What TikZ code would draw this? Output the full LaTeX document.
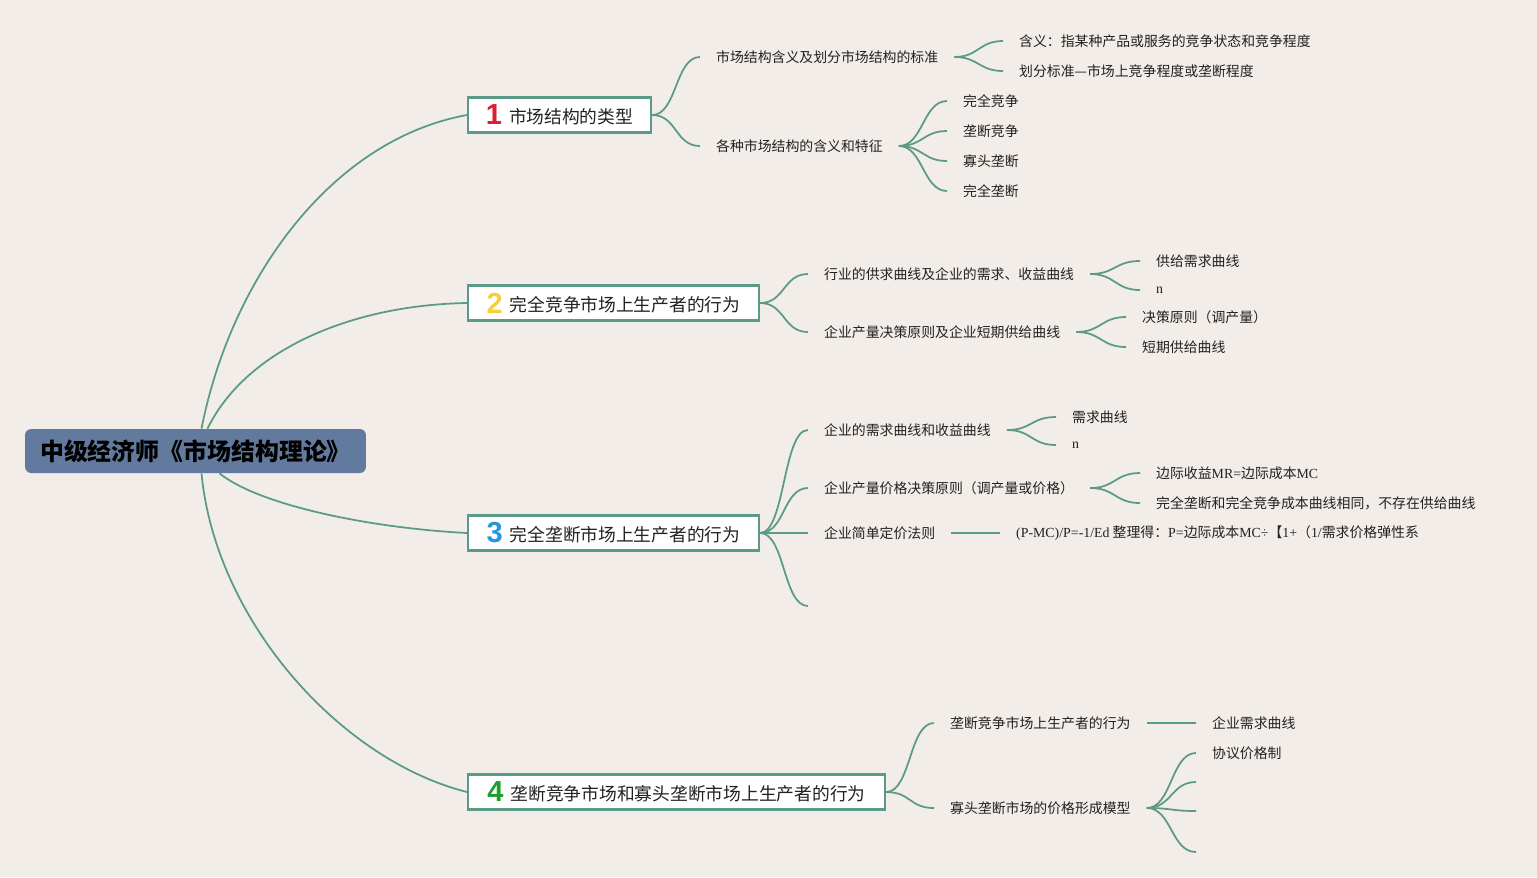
\documentclass[tikz,border=0pt]{standalone}
\usepackage{fontspec}
\setmainfont{Noto Sans CJK SC}
\newfontfamily\latfont{Liberation Serif}
\newfontfamily\numfont{Liberation Sans}
\usetikzlibrary{calc}

\definecolor{bgcol}{RGB}{242,237,232}
\definecolor{linkcol}{RGB}{91,154,134}
\definecolor{rootcol}{RGB}{98,122,158}
\definecolor{numred}{RGB}{222,30,50}
\definecolor{numyellow}{RGB}{247,206,62}
\definecolor{numblue}{RGB}{38,150,220}
\definecolor{numgreen}{RGB}{30,158,44}
\definecolor{txtcol}{RGB}{34,34,34}

\newcommand{\topicnum}[2]{\raisebox{-1pt}{\numfont\fontsize{16.5}{16}\selectfont\bfseries\color{#1}#2}\hspace{4pt}}

\begin{document}
\begin{tikzpicture}[x=0.02cm,y=-0.02cm,
  link/.style={draw=linkcol,line width=1pt},
  rootbox/.style={fill=rootcol,rounded corners=3.5pt,minimum width=6.82cm,minimum height=0.88cm,inner sep=0pt,font=\fontsize{13.6}{15}\selectfont\bfseries,text=black},
  topic/.style={draw=linkcol,line width=1.2pt,fill=white,anchor=west,minimum height=0.7cm,inner sep=0pt,font=\fontsize{10.1}{12}\selectfont,text=txtcol},
  leaf/.style={anchor=west,inner xsep=9pt,inner ysep=1pt,font=\fontsize{7.9}{9}\selectfont,text=txtcol}]

% Background
\fill[bgcol] (0,0) rectangle (1537,877);

% Root
\node[rootbox] (root) at (195.5,451) {中级经济师《市场结构理论》};

% Main topics
\node[topic,minimum width=3.66cm] (t1) at (467,115) {\topicnum{numred}{1}市场结构的类型};
\node[topic,minimum width=5.82cm] (t2) at (467,303) {\topicnum{numyellow}{2}完全竞争市场上生产者的行为};
\node[topic,minimum width=5.82cm] (t3) at (467,533) {\topicnum{numblue}{3}完全垄断市场上生产者的行为};
\node[topic,minimum width=8.34cm] (t4) at (467,792) {\topicnum{numgreen}{4}垄断竞争市场和寡头垄断市场上生产者的行为};

% Root to topics
\draw[link] ($(root.north)+(6,0)$) .. controls +(29,-148) and +(-137,25) .. (t1.west);
\draw[link] ($(root.north)+(12,0)$) .. controls +(38,-78) and +(-117,2) .. (t2.west);
\draw[link] ($(root.south)+(24,0)$) .. controls +(40,32) and +(-97,-5) .. (t3.west);
\draw[link] ($(root.south)+(6,0)$) .. controls +(14,147) and +(-127,-32) .. (t4.west);

% Topic 1
\node[leaf] (c11) at (700,57) {市场结构含义及划分市场结构的标准};
\node[leaf] (c12) at (700,146) {各种市场结构的含义和特征};
\node[leaf] (g111) at (1003,41) {含义：指某种产品或服务的竞争状态和竞争程度};
\node[leaf] (g112) at (1003,71) {划分标准—市场上竞争程度或垄断程度};
\node[leaf] (g121) at (947,101) {完全竞争};
\node[leaf] (g122) at (947,131) {垄断竞争};
\node[leaf] (g123) at (947,161) {寡头垄断};
\node[leaf] (g124) at (947,191) {完全垄断};
\draw[link] (t1.east) .. controls +(25,0) and +(-25,0) .. (c11.west);
\draw[link] (t1.east) .. controls +(25,0) and +(-25,0) .. (c12.west);
\draw[link] (c11.east) .. controls +(24,0) and +(-24,0) .. (g111.west);
\draw[link] (c11.east) .. controls +(24,0) and +(-24,0) .. (g112.west);
\draw[link] (c12.east) .. controls +(24,0) and +(-24,0) .. (g121.west);
\draw[link] (c12.east) .. controls +(24,0) and +(-24,0) .. (g122.west);
\draw[link] (c12.east) .. controls +(24,0) and +(-24,0) .. (g123.west);
\draw[link] (c12.east) .. controls +(24,0) and +(-24,0) .. (g124.west);

% Topic 2
\node[leaf] (c21) at (808,274) {行业的供求曲线及企业的需求、收益曲线};
\node[leaf] (c22) at (808,332) {企业产量决策原则及企业短期供给曲线};
\node[leaf] (g211) at (1140,261) {供给需求曲线};
\node[leaf] (g212) at (1140,290) {\latfont n};
\node[leaf] (g221) at (1126,317) {决策原则（调产量）};
\node[leaf] (g222) at (1126,347) {短期供给曲线};
\draw[link] (t2.east) .. controls +(25,0) and +(-25,0) .. (c21.west);
\draw[link] (t2.east) .. controls +(25,0) and +(-25,0) .. (c22.west);
\draw[link] (c21.east) .. controls +(25,0) and +(-25,0) .. (g211.west);
\draw[link] (c21.east) .. controls +(25,0) and +(-25,0) .. (g212.west);
\draw[link] (c22.east) .. controls +(25,0) and +(-25,0) .. (g221.west);
\draw[link] (c22.east) .. controls +(25,0) and +(-25,0) .. (g222.west);

% Topic 3
\node[leaf] (c31) at (808,430) {企业的需求曲线和收益曲线};
\node[leaf] (c32) at (808,488) {企业产量价格决策原则（调产量或价格）};
\node[leaf] (c33) at (808,533) {企业简单定价法则};
\coordinate (c34) at (808,606);
\node[leaf] (g311) at (1056,417) {需求曲线};
\node[leaf] (g312) at (1056,445) {\latfont n};
\node[leaf] (g321) at (1140,473) {边际收益{\latfont MR=}边际成本{\latfont MC}};
\node[leaf] (g322) at (1140,503) {完全垄断和完全竞争成本曲线相同，不存在供给曲线};
\node[leaf] (g331) at (1000,533) {{\latfont (P-MC)/P=-1/Ed} 整理得：{\latfont P=}边际成本{\latfont MC÷}【{\latfont 1+}（{\latfont 1/}需求价格弹性系};
\draw[link] (t3.east) .. controls +(25,0) and +(-25,0) .. (c31.west);
\draw[link] (t3.east) .. controls +(25,0) and +(-25,0) .. (c32.west);
\draw[link] (t3.east) .. controls +(25,0) and +(-25,0) .. (c33.west);
\draw[link] (t3.east) .. controls +(25,0) and +(-25,0) .. (c34);
\draw[link] (c31.east) .. controls +(25,0) and +(-25,0) .. (g311.west);
\draw[link] (c31.east) .. controls +(25,0) and +(-25,0) .. (g312.west);
\draw[link] (c32.east) .. controls +(25,0) and +(-25,0) .. (g321.west);
\draw[link] (c32.east) .. controls +(25,0) and +(-25,0) .. (g322.west);
\draw[link] (c33.east) -- (g331.west);

% Topic 4
\node[leaf] (c41) at (934,723) {垄断竞争市场上生产者的行为};
\node[leaf] (c42) at (934,808) {寡头垄断市场的价格形成模型};
\node[leaf] (g411) at (1196,723) {企业需求曲线};
\node[leaf] (g421) at (1196,753) {协议价格制};
\coordinate (g422) at (1196,782);
\coordinate (g423) at (1196,811);
\coordinate (g424) at (1196,852);
\draw[link] (t4.east) .. controls +(25,0) and +(-25,0) .. (c41.west);
\draw[link] (t4.east) .. controls +(25,0) and +(-25,0) .. (c42.west);
\draw[link] (c41.east) -- (g411.west);
\draw[link] (c42.east) .. controls +(25,0) and +(-25,0) .. (g421.west);
\draw[link] (c42.east) .. controls +(25,0) and +(-25,0) .. (g422);
\draw[link] (c42.east) .. controls +(25,0) and +(-25,0) .. (g423);
\draw[link] (c42.east) .. controls +(25,0) and +(-25,0) .. (g424);
\end{tikzpicture}
\end{document}
